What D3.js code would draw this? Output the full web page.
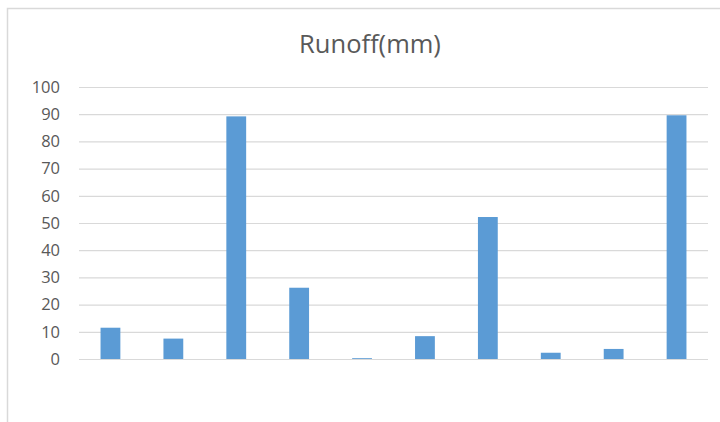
<!DOCTYPE html>
<html><head><meta charset="utf-8">
<script src="https://cdn.jsdelivr.net/npm/d3@7"></script>
<style>html,body{margin:0;padding:0;background:#fff;}svg{display:block;}</style>
</head><body>
<svg id="c" width="720" height="422"></svg>
<script>
const categories = ["1","2","3","4","5","6","7","8","9","10"];
const runoff = [11.5, 7.5, 89.2, 26.2, 0.3, 8.4, 52.2, 2.3, 3.7, 89.6];
const yTicks = [0,10,20,30,40,50,60,70,80,90,100];
const title = "Runoff(mm)";

const svg = d3.select("#c");
const W = 720, H = 422;
const m = {left: 79, right: 12, top: 87, bottom: 63};
const x = d3.scaleBand().domain(categories).range([m.left, W - m.right]).paddingInner(0.685).paddingOuter(0.3425);
const y = d3.scaleLinear().domain([0,100]).range([H - m.bottom, m.top]);

// chart border
svg.append("rect").attr("x",7.5).attr("y",8.5).attr("width",730).attr("height",430)
  .attr("fill","none").attr("stroke","#d9d9d9").attr("stroke-width",1.5);

// title
svg.append("text").attr("x", 370).attr("y", 53).attr("text-anchor","middle")
  .attr("font-family","'Open Sans', 'Liberation Sans', sans-serif").attr("font-size",25.5)
  .attr("fill","#595959").text(title);

// gridlines + labels via axis
const ax = d3.axisLeft(y).tickValues(yTicks).tickSize(-(W - m.right - m.left)).tickPadding(19);
const g = svg.append("g").attr("transform",`translate(${m.left},0)`).call(ax);
g.select(".domain").remove();
g.selectAll(".tick line").attr("stroke","#d9d9d9").attr("stroke-width",1.2);
g.selectAll(".tick text").attr("fill","#595959").attr("font-size",16.5)
  .attr("font-family","'Open Sans', 'Liberation Sans', sans-serif");

// bars
svg.append("g").selectAll("rect").data(runoff).join("rect")
  .attr("x",(d,i)=>x(categories[i]))
  .attr("width",x.bandwidth())
  .attr("y",d=>y(d))
  .attr("height",d=>y(0)-y(d))
  .attr("fill","#5b9bd5");
</script>
</body></html>
